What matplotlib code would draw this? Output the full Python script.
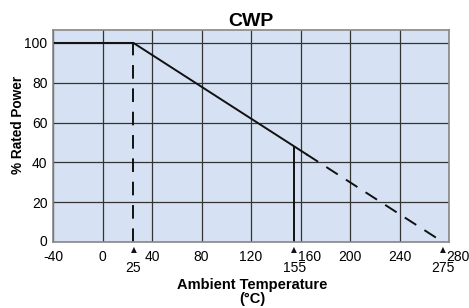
"""
CWP derating curve - % rated power vs ambient temperature
"""

import matplotlib.pyplot as plt
from matplotlib.transforms import ScaledTranslation
import numpy as np

plt.rcParams['font.family'] = ['Liberation Sans', 'DejaVu Sans']

# Derating curve data
solid_temp = [-40, 25, 165]
solid_power = [100, 100, 44]
dash_temp = [165, 275]
dash_power = [44, 0]

# Marker lines
knee_temp = 25
knee_power = 100
limit_temp = 155
limit_power = 47.5

x_ticks = [-40, 0, 40, 80, 120, 160, 200, 240, 280]
y_ticks = [0, 20, 40, 60, 80, 100]
marked_temps = [25, 155, 275]

W, H = 469, 308
fig = plt.figure(figsize=(W / 100, H / 100), dpi=100)
ax = fig.add_axes([53 / W, 1 - 242 / H, 396 / W, 212 / H])
ax.set_facecolor('#d6e2f3')

ax.set_xlim(-40, 280)
ax.set_ylim(0, 106.5)
ax.set_xticks(x_ticks)
ax.set_yticks(y_ticks)
ax.set_xticklabels([str(t) for t in x_ticks], fontsize=10)
ax.set_yticklabels([str(t) for t in y_ticks], fontsize=10)
ax.tick_params(axis='x', length=0, pad=6)
ax.tick_params(axis='y', length=0, pad=4)
ax.grid(True, color='#333333', linewidth=0.9)
ax.set_axisbelow(True)
for side in ['top', 'bottom', 'right', 'left']:
    ax.spines[side].set_color('#888888')
    ax.spines[side].set_linewidth(1.2)

# nudge labels that sit next to a triangle marker
shift = ScaledTranslation(9 / 100, 0, fig.dpi_scale_trans)
for lbl in ax.get_xticklabels():
    if lbl.get_text() in ('160', '280'):
        lbl.set_transform(lbl.get_transform() + shift)
# lift the y "0" label a little, as in the original
lift = ScaledTranslation(0, 2 / 100, fig.dpi_scale_trans)
for lbl in ax.get_yticklabels():
    if lbl.get_text() == '0':
        lbl.set_transform(lbl.get_transform() + lift)

# curve
ax.plot(solid_temp, solid_power, color='#111111', linewidth=1.4)
ax.plot(dash_temp, dash_power, color='#111111', linewidth=1.4,
        dashes=(7, 5))
ax.plot([knee_temp, knee_temp], [0, knee_power], color='#111111',
        linewidth=1.4, dashes=(7, 5))
ax.plot([limit_temp, limit_temp], [0, limit_power], color='#111111',
        linewidth=1.4)

# triangles + extra labels below axis
trans = ax.get_xaxis_transform()
for t in marked_temps:
    ax.text(t, -0.035, '\u25B2', transform=trans, ha='center', va='center',
            fontsize=5.5, color='#111111', family='DejaVu Sans', clip_on=False)
    ax.text(t, -0.122, str(t), transform=trans, ha='center', va='center',
            fontsize=10, clip_on=False)

ax.set_title('CWP', fontsize=14, fontweight='bold', pad=3)
fig.text(18 / W, 1 - 125 / H, '% Rated Power', rotation=90, ha='center',
         va='center', fontsize=9.8, fontweight='bold')
fig.text(252 / W, 1 - 292 / H, 'Ambient Temperature\n(\u00B0C)',
         ha='center', va='center', fontsize=10.5, fontweight='bold',
         linespacing=0.95)

fig.savefig('out.png', dpi=100, facecolor='white')
